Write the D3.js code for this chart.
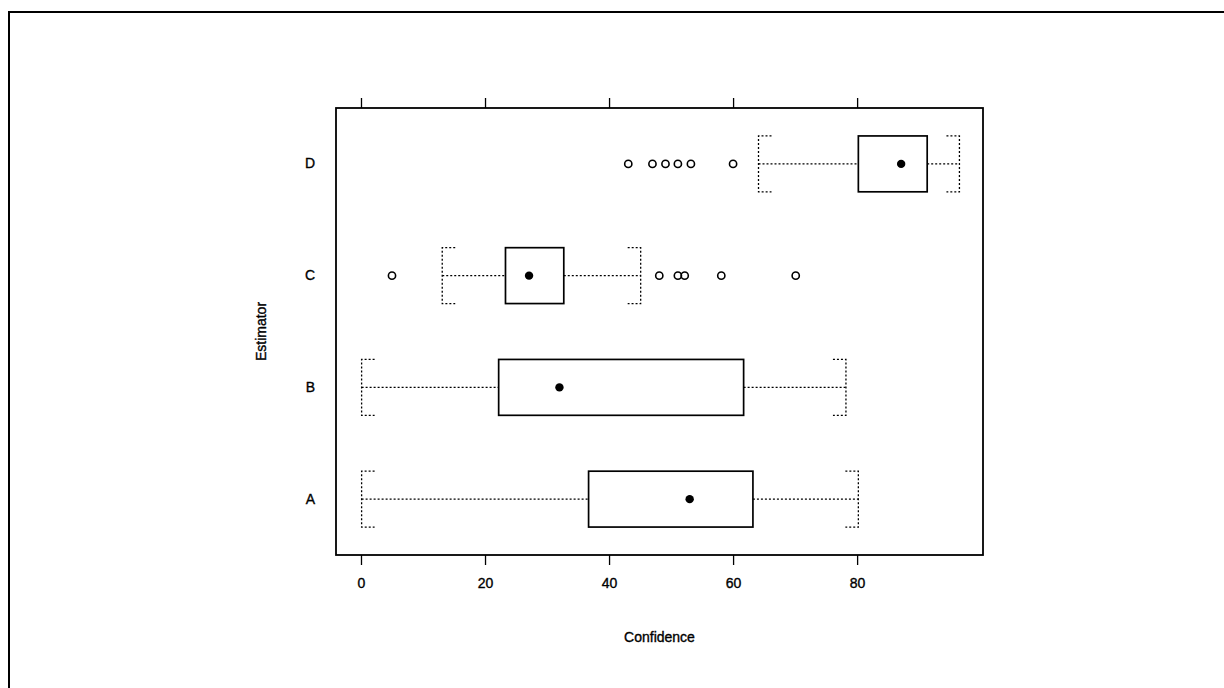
<!DOCTYPE html>
<html>
<head>
<meta charset="utf-8">
<script src="https://cdn.jsdelivr.net/npm/d3@7/dist/d3.min.js"></script>
<style>
  html, body { margin: 0; padding: 0; background: #fff; }
  svg { display: block; }
  text { font-family: "Liberation Sans", Arial, sans-serif; fill: #000; stroke: #000; stroke-width: 0.35px; }
</style>
</head>
<body>
<svg id="chart" width="1224" height="688"></svg>
<script>
// Box-and-whisker summary per estimator
const categories    = ["D", "C", "B", "A"];
const lowerWhisker  = [64.1, 13.1, 0.1, 0.1];
const lowerQuartile = [80.2, 23.3, 22.2, 36.7];
const medians       = [87.1, 27.1, 32.0, 53.0];
const upperQuartile = [91.3, 32.7, 61.7, 63.2];
const upperWhisker  = [96.5, 45.1, 78.2, 80.2];
const outliers      = [
  [43.1, 47.0, 49.1, 51.1, 53.2, 60.0],
  [5.0, 48.1, 51.1, 52.2, 58.1, 70.1],
  [],
  []
];
const xTicks = [0, 20, 40, 60, 80];

const rows = categories.map((c, i) => ({
  cat: c,
  lo: lowerWhisker[i], q1: lowerQuartile[i], med: medians[i],
  q3: upperQuartile[i], hi: upperWhisker[i], out: outliers[i]
}));

const svg = d3.select("#chart");

// outer page frame
svg.append("rect")
  .attr("x", 9).attr("y", 12).attr("width", 1240).attr("height", 700)
  .attr("fill", "none").attr("stroke", "#000").attr("stroke-width", 2);

const plot = { left: 336, right: 983, top: 108, bottom: 555 };

const x = d3.scaleLinear().domain([-4.03, 100.3]).range([plot.left, plot.right]);
const y = d3.scaleBand().domain(categories).range([plot.top, plot.bottom]);

const boxH = y.step() * 0.5;
const capArm = 13;
const dots = "2,2";

// panel border
svg.append("rect")
  .attr("x", plot.left).attr("y", plot.top)
  .attr("width", plot.right - plot.left).attr("height", plot.bottom - plot.top)
  .attr("fill", "none").attr("stroke", "#000").attr("stroke-width", 1.8);

// bottom axis with labels
const bottomAxis = svg.append("g")
  .attr("transform", `translate(0,${plot.bottom})`)
  .call(d3.axisBottom(x).tickValues(xTicks).tickSize(10).tickPadding(13).tickFormat(d3.format("d")));
bottomAxis.select(".domain").remove();
bottomAxis.selectAll("line").attr("stroke", "#000").attr("stroke-width", 1.3);
bottomAxis.selectAll("text").style("font-size", "14px").style("font-family", "'Liberation Sans', Arial, sans-serif");

// top axis, ticks only
const topAxis = svg.append("g")
  .attr("transform", `translate(0,${plot.top})`)
  .call(d3.axisTop(x).tickValues(xTicks).tickSize(10).tickFormat(""));
topAxis.select(".domain").remove();
topAxis.selectAll("line").attr("stroke", "#000").attr("stroke-width", 1.3);

// left category labels
const leftAxis = svg.append("g")
  .attr("transform", `translate(${plot.left},0)`)
  .call(d3.axisLeft(y).tickSize(0).tickPadding(21));
leftAxis.select(".domain").remove();
leftAxis.selectAll("text").style("font-size", "14px").style("font-family", "'Liberation Sans', Arial, sans-serif");

// axis titles
svg.append("text")
  .attr("x", (plot.left + plot.right) / 2).attr("y", 642)
  .attr("text-anchor", "middle").style("font-size", "14px")
  .text("Confidence");

svg.append("text")
  .attr("transform", `translate(266,${(plot.top + plot.bottom) / 2}) rotate(-90)`)
  .attr("text-anchor", "middle").style("font-size", "14px")
  .text("Estimator");

// boxes
const g = svg.append("g").selectAll("g").data(rows).join("g")
  .attr("transform", d => `translate(0,${y(d.cat) + y.bandwidth() / 2})`);

const dotted = sel => sel.attr("stroke", "#000").attr("stroke-width", 1.3)
  .attr("stroke-dasharray", dots).attr("fill", "none");

// whiskers
g.append("line").call(dotted)
  .attr("x1", d => x(d.lo)).attr("x2", d => x(d.q1)).attr("y1", 0).attr("y2", 0);
g.append("line").call(dotted)
  .attr("x1", d => x(d.q3)).attr("x2", d => x(d.hi)).attr("y1", 0).attr("y2", 0);

// bracket-shaped caps
g.append("path").call(dotted)
  .attr("d", d => {
    const cx = x(d.lo);
    return `M${cx + capArm},${-boxH / 2}H${cx}V${boxH / 2}H${cx + capArm}`;
  });
g.append("path").call(dotted)
  .attr("d", d => {
    const cx = x(d.hi);
    return `M${cx - capArm},${-boxH / 2}H${cx}V${boxH / 2}H${cx - capArm}`;
  });

// interquartile box
g.append("rect")
  .attr("x", d => x(d.q1)).attr("y", -boxH / 2)
  .attr("width", d => x(d.q3) - x(d.q1)).attr("height", boxH)
  .attr("fill", "#fff").attr("stroke", "#000").attr("stroke-width", 1.7);

// median dot
g.append("circle")
  .attr("cx", d => x(d.med)).attr("cy", 0).attr("r", 4.2)
  .attr("fill", "#000");

// outliers
g.selectAll("circle.out").data(d => d.out).join("circle")
  .attr("class", "out")
  .attr("cx", v => x(v)).attr("cy", 0).attr("r", 3.6)
  .attr("fill", "none").attr("stroke", "#000").attr("stroke-width", 1.6);
</script>
</body>
</html>
